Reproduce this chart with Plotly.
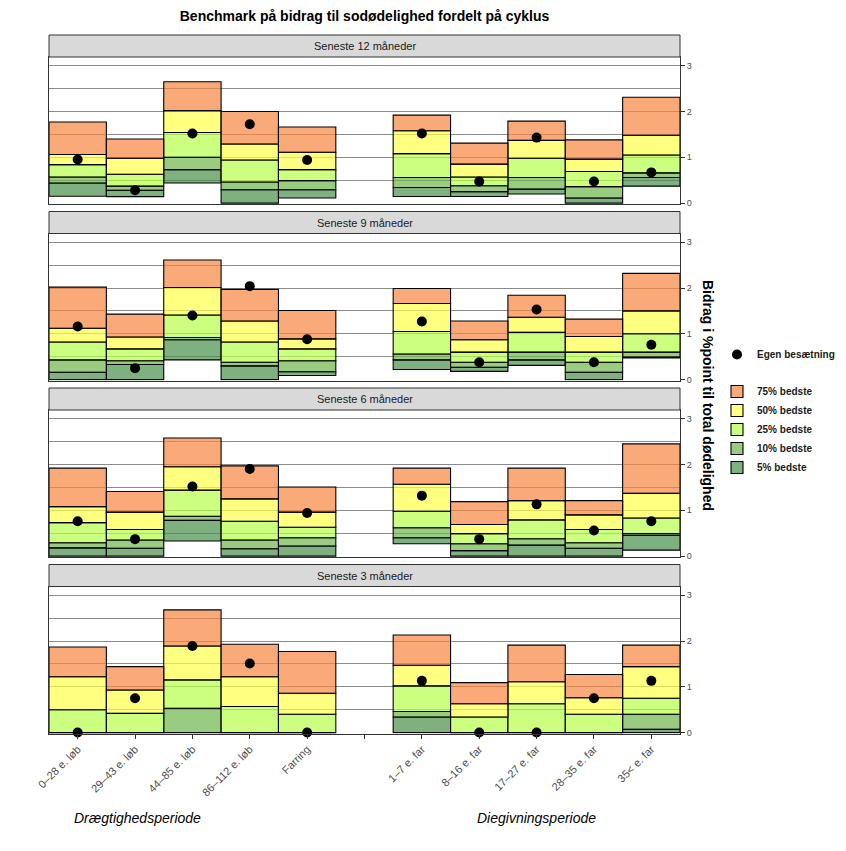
import plotly.graph_objects as go

# ---------------- data ----------------
categories = ["0–28 e. løb", "29–43 e. løb", "44–85 e. løb", "86–112 e. løb", "Farring", "",
              "1–7 e. far", "8–16 e. far", "17–27 e. far", "28–35 e. far", "35< e. far"]
panels = ["Seneste 12 måneder", "Seneste 9 måneder", "Seneste 6 måneder", "Seneste 3 måneder"]
band_names = ["5% bedste", "10% bedste", "25% bedste", "50% bedste", "75% bedste"]

# 12 months
min_12 = [0.15, 0.14, 0.44, 0.00, 0.11, None, 0.145, 0.145, 0.20, 0.00, 0.37]
p5_12  = [0.44, 0.28, 0.73, 0.29, 0.29, None, 0.34, 0.25, 0.305, 0.11, 0.56]
p10_12 = [0.57, 0.37, 1.00, 0.46, 0.49, None, 0.56, 0.38, 0.56, 0.36, 0.66]
p25_12 = [0.84, 0.63, 1.54, 0.94, 0.73, None, 1.08, 0.57, 0.98, 0.69, 1.05]
p50_12 = [1.06, 0.98, 2.02, 1.29, 1.11, None, 1.58, 0.85, 1.37, 0.96, 1.48]
p75_12 = [1.77, 1.40, 2.65, 2.00, 1.66, None, 1.92, 1.31, 1.79, 1.38, 2.31]
own_12 = [0.95, 0.28, 1.52, 1.72, 0.94, None, 1.52, 0.47, 1.43, 0.47, 0.67]

# 9 months
min_9 = [0.00, 0.00, 0.43, 0.00, 0.09, None, 0.22, 0.18, 0.31, 0.00, 0.47]
p5_9  = [0.16, 0.33, 0.87, 0.30, 0.17, None, 0.43, 0.27, 0.43, 0.16, 0.49]
p10_9 = [0.43, 0.41, 0.92, 0.38, 0.41, None, 0.56, 0.38, 0.60, 0.38, 0.60]
p25_9 = [0.82, 0.67, 1.41, 0.82, 0.67, None, 1.05, 0.60, 1.03, 0.60, 1.00]
p50_9 = [1.12, 0.93, 2.01, 1.28, 0.89, None, 1.66, 0.87, 1.36, 0.94, 1.50]
p75_9 = [2.02, 1.43, 2.61, 1.97, 1.51, None, 1.99, 1.28, 1.84, 1.32, 2.32]
own_9 = [1.16, 0.25, 1.40, 2.04, 0.88, None, 1.27, 0.38, 1.53, 0.38, 0.76]

# 6 months
min_6 = [0.00, 0.00, 0.33, 0.00, 0.00, None, 0.27, 0.00, 0.00, 0.00, 0.13]
p5_6  = [0.18, 0.17, 0.78, 0.16, 0.22, None, 0.40, 0.12, 0.24, 0.17, 0.45]
p10_6 = [0.29, 0.35, 0.87, 0.35, 0.40, None, 0.62, 0.27, 0.38, 0.29, 0.49]
p25_6 = [0.73, 0.58, 1.44, 0.76, 0.63, None, 0.98, 0.49, 0.79, 0.58, 0.83]
p50_6 = [1.08, 0.96, 1.95, 1.25, 0.96, None, 1.57, 0.69, 1.21, 0.90, 1.37]
p75_6 = [1.92, 1.41, 2.58, 1.97, 1.51, None, 1.92, 1.19, 1.92, 1.21, 2.45]
own_6 = [0.76, 0.37, 1.52, 1.90, 0.94, None, 1.32, 0.37, 1.13, 0.56, 0.76]

# 3 months
min_3 = [0.00, 0.00, 0.00, 0.00, 0.00, None, 0.00, 0.00, 0.00, 0.00, 0.00]
p5_3  = [0.00, 0.00, 0.00, 0.00, 0.00, None, 0.34, 0.00, 0.00, 0.00, 0.07]
p10_3 = [0.00, 0.00, 0.53, 0.00, 0.00, None, 0.46, 0.00, 0.00, 0.00, 0.40]
p25_3 = [0.50, 0.42, 1.15, 0.57, 0.40, None, 1.02, 0.34, 0.63, 0.40, 0.75]
p50_3 = [1.22, 0.93, 1.89, 1.22, 0.86, None, 1.47, 0.63, 1.11, 0.76, 1.44]
p75_3 = [1.87, 1.44, 2.68, 1.93, 1.77, None, 2.13, 1.09, 1.91, 1.27, 1.91]
own_3 = [0.00, 0.75, 1.89, 1.51, 0.00, None, 1.13, 0.00, 0.00, 0.75, 1.13]

panel_levels = [
    [min_12, p5_12, p10_12, p25_12, p50_12, p75_12],
    [min_9, p5_9, p10_9, p25_9, p50_9, p75_9],
    [min_6, p5_6, p10_6, p25_6, p50_6, p75_6],
    [min_3, p5_3, p10_3, p25_3, p50_3, p75_3],
]
panel_own = [own_12, own_9, own_6, own_3]

# ---------------- style / layout ----------------
band_colors = ["rgba(73,142,74,0.7)", "rgba(109,182,74,0.7)", "rgba(182,255,74,0.7)",
               "rgba(255,255,74,0.7)", "rgba(248,134,62,0.7)"]
FONT = "Liberation Sans, Arial, sans-serif"
OFF = 8                       # page body margin in the browser
W, H = 846 - OFF, 851 - OFF
PLOT_L, PLOT_R, PLOT_T, PLOT_B = 49, 680, 35, 734   # page pixels
M_L, M_R = PLOT_L - OFF, W - (PLOT_R - OFF)
M_T, M_B = PLOT_T - OFF, H - (PLOT_B - OFF)
PW, PH = W - M_L - M_R, H - M_T - M_B
STRIP, PLOT, PITCH = 22, 147, 176.5

def py(page_y):
    return (PLOT_B - page_y) / PH

def px(page_x):
    return (page_x - PLOT_L) / PW

xpos = list(range(1, len(categories) + 1))

fig = go.Figure()
layout = {}
shapes, annotations = [], []

for k, (title, levels, own) in enumerate(zip(panels, panel_levels, panel_own)):
    sfx = "" if k == 0 else str(k + 1)
    xa, ya = "x" + sfx, "y" + sfx
    strip_top = PLOT_T + k * PITCH
    plot_top = strip_top + STRIP
    plot_bot = plot_top + PLOT

    fig.add_trace(go.Scatter(
        x=xpos, y=own, mode="markers", xaxis=xa, yaxis=ya,
        marker=dict(color="black", size=10), cliponaxis=False,
        name="Egen besætning", legendgroup="own", legendrank=1,
        showlegend=(k == 0), hoverinfo="skip"))
    for j in range(5):
        lo, hi = levels[j], levels[j + 1]
        hgt = [None if (a is None or b is None) else b - a for a, b in zip(lo, hi)]
        fig.add_trace(go.Bar(
            x=xpos, y=hgt, base=lo, width=1, xaxis=xa, yaxis=ya,
            marker=dict(color=band_colors[j], line=dict(color="black", width=1.1)),
            name=band_names[j], legendgroup="bench", legendrank=10 - j,
            showlegend=(k == 0), hoverinfo="skip"))

    last = (k == len(panels) - 1)
    layout["xaxis" + sfx] = dict(
        domain=[0, 1], anchor=ya, range=[0.5, len(categories) + 0.5],
        showgrid=False, zeroline=False, showline=True, mirror=True,
        linecolor="#333333", linewidth=1, automargin=False,
        tickmode="array", tickvals=xpos, ticktext=categories,
        showticklabels=last, ticks="outside" if last else "", ticklen=4,
        tickcolor="#333333", tickangle=-45,
        tickfont=dict(family=FONT, size=11, color="#4d4d4d"))
    layout["yaxis" + sfx] = dict(
        domain=[py(plot_bot), py(plot_top)], anchor=xa, side="right",
        range=[-0.02, 3.19], tickvals=[0, 1, 2, 3], ticks="outside", ticklen=4,
        tickcolor="#333333", showline=True, mirror=True, linecolor="#333333", linewidth=1,
        showgrid=True, gridcolor="#8c8c8c", gridwidth=1, zeroline=False, automargin=False,
        minor=dict(tickvals=[0.5, 1.5, 2.5], showgrid=True, gridcolor="#8c8c8c", gridwidth=1),
        tickfont=dict(family=FONT, size=9, color="#4d4d4d"))

    shapes.append(dict(type="rect", xref="paper", yref="paper", x0=0, x1=1,
                       y0=py(plot_top), y1=py(strip_top),
                       fillcolor="#d9d9d9", line=dict(color="#333333", width=1), layer="above"))
    annotations.append(dict(text=title, xref="paper", yref="paper", x=0.5,
                            y=(py(plot_top) + py(strip_top)) / 2, showarrow=False,
                            xanchor="center", yanchor="middle",
                            font=dict(family=FONT, size=11, color="#1a1a1a")))

annotations.append(dict(text="<b>Bidrag i %point til total dødelighed</b>", textangle=90,
                        xref="paper", yref="paper", x=px(708), y=py(395), showarrow=False,
                        xanchor="center", yanchor="middle",
                        font=dict(family=FONT, size=14, color="#000000")))
annotations.append(dict(text="<i>Drægtighedsperiode</i>", xref="paper", yref="paper",
                        x=px(137), y=py(818), showarrow=False,
                        xanchor="center", yanchor="middle",
                        font=dict(family=FONT, size=14, color="#000000")))
annotations.append(dict(text="<i>Diegivningsperiode</i>", xref="paper", yref="paper",
                        x=px(536), y=py(818), showarrow=False,
                        xanchor="center", yanchor="middle",
                        font=dict(family=FONT, size=14, color="#000000")))

fig.update_layout(
    width=W, height=H, autosize=False,
    margin=dict(l=M_L, r=M_R, t=M_T, b=M_B, autoexpand=False),
    paper_bgcolor="white", plot_bgcolor="white",
    barmode="overlay",
    title=dict(text="<b>Benchmark på bidrag til sodødelighed fordelt på cyklus</b>",
               x=(364.5 - OFF) / W, xanchor="center", y=1 - (16 - OFF) / H, yanchor="middle",
               font=dict(family=FONT, size=14, color="#000000")),
    legend=dict(xref="container", yref="container",
                x=(717 - OFF) / W, xanchor="left", y=1 - (340 - OFF) / H, yanchor="top",
                traceorder="grouped", tracegroupgap=18, borderwidth=0,
                font=dict(family=FONT, size=10, color="#1a1a1a", weight="bold"),
                bgcolor="rgba(0,0,0,0)"),
    shapes=shapes, annotations=annotations,
    **layout)

fig.write_html("out.html")
